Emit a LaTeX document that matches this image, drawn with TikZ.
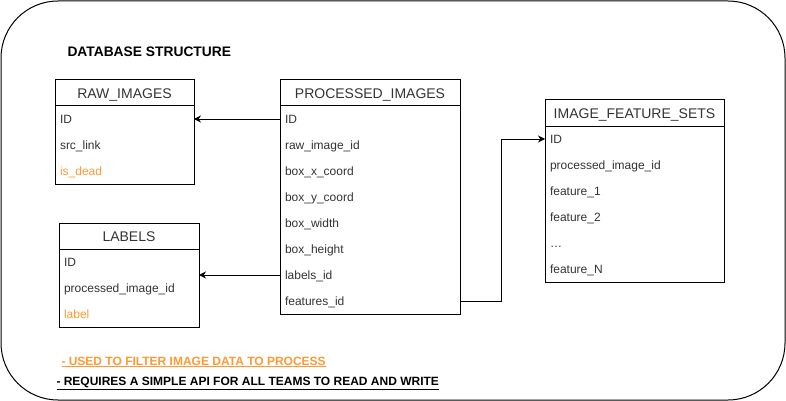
\documentclass[tikz,border=0pt]{standalone}
\usepackage{fontspec}
\setmainfont{Liberation Sans}
\usetikzlibrary{arrows.meta, fit}
\definecolor{txtgray}{HTML}{333333}
\definecolor{flagorange}{HTML}{FF9933}

\begin{document}
\begin{tikzpicture}[x=1pt, y=-1pt, line width=1pt]
	\tikzstyle{head} = [draw, anchor=north west, minimum height=26pt, inner sep=0pt, outer sep=0pt, text height=11pt, text depth=0pt, font=\fontsize{14}{16}\selectfont, text=txtgray]
	\tikzstyle{row} = [anchor=north west, minimum height=26pt, inner xsep=5pt, inner ysep=0pt, outer sep=0pt, text height=10pt, text depth=1.5pt, align=left, font=\fontsize{12}{14}\selectfont, text=txtgray]
	\tikzstyle{table} = [draw, inner sep=0pt, outer sep=0pt]
	\tikzstyle{link} = [-{Stealth[length=7pt, width=7pt]}]
	\useasboundingbox (0,0) rectangle (786,401);
	\draw[rounded corners=57pt] (1,1) rectangle (785,400);
	\node[anchor=base west, inner sep=0pt, font=\bfseries\fontsize{13.8}{16}\selectfont] (title) at (67,56.5) {DATABASE STRUCTURE};
	% raw images
	\node[head, minimum width=139pt] (raw-head) at (55,80) {RAW\_IMAGES};
	\node[row, text width=129pt] (raw-1) at (55,106) {ID};
	\node[row, text width=129pt] (raw-2) at (55,132) {src\_link};
	\node[row, text width=129pt, text=flagorange] (raw-3) at (55,158) {is\_dead};
	\node[table, fit=(raw-head)(raw-3)] (raw) {};
	% processed images
	\node[head, minimum width=180pt] (proc-head) at (280,80) {PROCESSED\_IMAGES};
	\foreach \f [count=\i] in {ID, raw\_image\_id, box\_x\_coord, box\_y\_coord, box\_width, box\_height, labels\_id, features\_id}
		\node[row, text width=170pt] (proc-\i) at (280,80+26*\i) {\f};
	\node[table, fit=(proc-head)(proc-8)] (proc) {};
	% feature sets
	\node[head, minimum width=179pt] (ifs-head) at (545,100) {IMAGE\_FEATURE\_SETS};
	\foreach \f [count=\i] in {ID, processed\_image\_id, feature\_1, feature\_2, \ldots, feature\_N}
		\node[row, text width=169pt] (ifs-\i) at (545,100+26*\i) {\f};
	\node[table, fit=(ifs-head)(ifs-6)] (ifs) {};
	% labels
	\node[head, minimum width=140pt] (lab-head) at (59,223) {LABELS};
	\node[row, text width=130pt] (lab-1) at (59,249) {ID};
	\node[row, text width=130pt] (lab-2) at (59,275) {processed\_image\_id};
	\node[row, text width=130pt, text=flagorange] (lab-3) at (59,301) {label};
	\node[table, fit=(lab-head)(lab-3)] (labels) {};
	% links
	\draw[link] (proc-1.west) -- (raw-1.east);
	\draw[link] (proc-7.west) -- (labels.east);
	\draw[link] (proc-8.east) -- ++(41,0) |- (ifs-1.west);
	% notes
	\node[anchor=base west, inner sep=0pt, font=\bfseries\fontsize{12}{14}\selectfont, text=flagorange] (note-1) at (61,365) {\underline{- USED TO FILTER IMAGE DATA TO PROCESS}};
	\node[anchor=base west, inner sep=0pt, font=\bfseries\fontsize{12}{14}\selectfont] (note-2) at (56,385) {\underline{- REQUIRES A SIMPLE API FOR ALL TEAMS TO READ AND WRITE}};
\end{tikzpicture}
\end{document}
